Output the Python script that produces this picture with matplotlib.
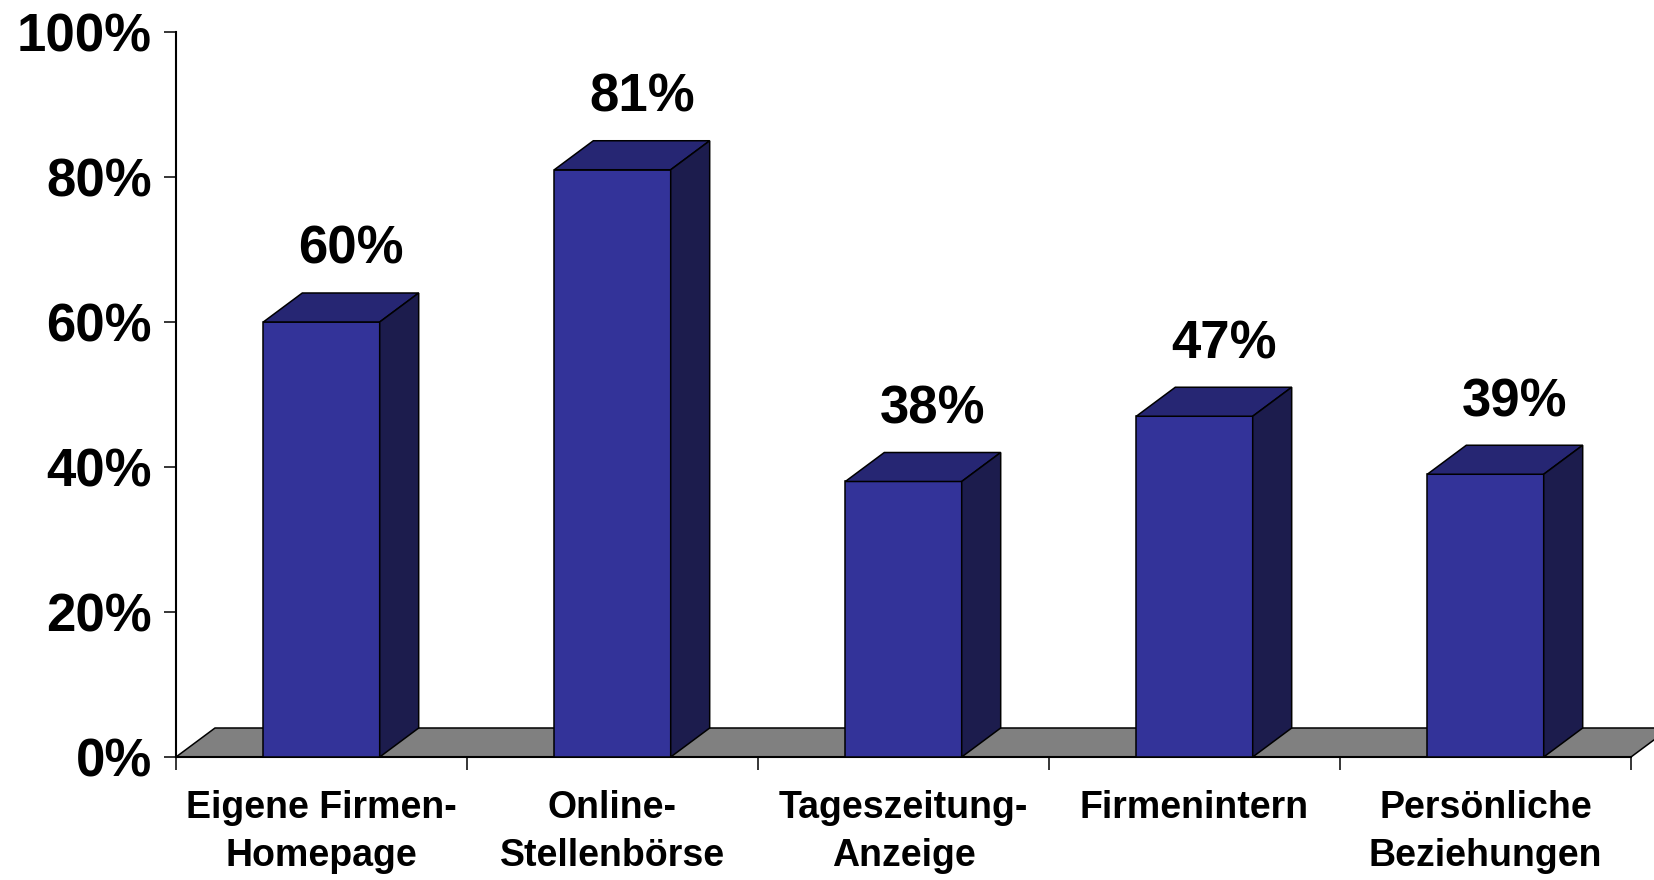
import numpy as np
import matplotlib.pyplot as plt
from matplotlib.patches import Polygon, Rectangle

categories = ['Eigene Firmen-\nHomepage', 'Online-\nStellenbörse', 'Tageszeitung-\nAnzeige',
              'Firmenintern', 'Persönliche\nBeziehungen']
values = [60, 81, 38, 47, 39]
yticks = [0, 20, 40, 60, 80, 100]

plt.rcParams['font.family'] = ['Liberation Sans', 'DejaVu Sans']
plt.rcParams['font.weight'] = 'bold'

front_col = '#333399'
top_col = '#262673'
side_col = '#1c1c4d'
floor_col = '#808080'

fig = plt.figure(figsize=(16.54, 8.80), dpi=100)
ax = fig.add_axes([176 / 1654, 1 - 757 / 880, (1631 - 176) / 1654, (757 - 32) / 880])

n = len(values)
dx, dy = 0.134, 4.0   # depth offset in data units
bw = 0.4

# floor
floor = Polygon([(0, 0), (n, 0), (n + dx, dy), (dx, dy)], closed=True,
                facecolor=floor_col, edgecolor='black', lw=1.1, zorder=1, clip_on=False)
ax.add_patch(floor)

for i, v in enumerate(values):
    x0 = i + 0.5 - bw / 2
    x1 = x0 + bw
    ax.add_patch(Rectangle((x0, 0), bw, v, facecolor=front_col, edgecolor='black',
                           lw=1.1, zorder=3, clip_on=False))
    ax.add_patch(Polygon([(x0, v), (x1, v), (x1 + dx, v + dy), (x0 + dx, v + dy)],
                         facecolor=top_col, edgecolor='black', lw=1.1, zorder=3, clip_on=False))
    ax.add_patch(Polygon([(x1, 0), (x1 + dx, dy), (x1 + dx, v + dy), (x1, v)],
                         facecolor=side_col, edgecolor='black', lw=1.1, zorder=3, clip_on=False))
    ax.text(i + 0.5 + dx * 0.75, v + 8.0, f'{v}%', ha='center', va='baseline',
            fontsize=38, fontweight='bold')

ax.set_xlim(0, n)
ax.set_ylim(0, 100)
ax.set_yticks(yticks)
ax.set_yticklabels([f'{t}%' for t in yticks])
ax.set_xticks(np.arange(n + 1))
ax.set_xticklabels([])
ax.set_xticks(np.arange(n) + 0.5, minor=True)
ax.set_xticklabels(categories, minor=True, linespacing=1.42)

ax.tick_params(axis='y', labelsize=38, length=8.6, width=1.1, pad=8.6)
ax.tick_params(axis='x', which='major', length=9.5, width=1.1)
ax.tick_params(axis='x', which='minor', length=0, labelsize=27, pad=24)

for s in ['top', 'right']:
    ax.spines[s].set_visible(False)
for s in ['left', 'bottom']:
    ax.spines[s].set_linewidth(1.5)
ax.spines['bottom'].set_zorder(2)
ax.patch.set_visible(False)

fig.savefig('out.png', dpi=100)
